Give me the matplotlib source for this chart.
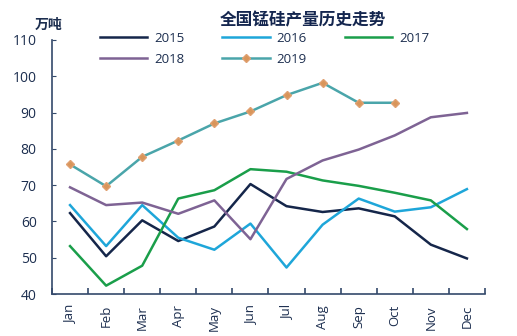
import matplotlib.pyplot as plt
import numpy as np

plt.rcParams['font.family'] = ['Open Sans', 'Noto Sans CJK SC', 'DejaVu Sans']

months = ["Jan", "Feb", "Mar", "Apr", "May", "Jun", "Jul", "Aug", "Sep", "Oct", "Nov", "Dec"]
y2015 = [62.3, 50.4, 60.3, 54.6, 58.6, 70.3, 64.2, 62.6, 63.6, 61.4, 53.6, 49.8]
y2016 = [64.5, 53.2, 64.5, 55.5, 52.2, 59.4, 47.3, 59.1, 66.3, 62.7, 63.9, 68.9]
y2017 = [53.2, 42.3, 47.8, 66.3, 68.6, 74.4, 73.7, 71.3, 69.8, 67.9, 65.8, 57.9]
y2018 = [69.4, 64.5, 65.2, 62.1, 65.8, 55.1, 71.7, 76.8, 79.8, 83.7, 88.7, 89.9]
y2019 = [75.7, 69.7, 77.8, 82.3, 87.0, 90.3, 94.8, 98.2, 92.7, 92.7]

navy = "#1c2e4f"
fig = plt.figure(figsize=(5.17, 3.36), dpi=100)
ax = fig.add_axes([0.1006, 0.125, 0.8374, 0.756])
x = np.arange(len(months))

l15, = ax.plot(x, y2015, color="#15264a", lw=1.8, label="2015")
l16, = ax.plot(x, y2016, color="#1ea6d9", lw=1.8, label="2016")
l17, = ax.plot(x, y2017, color="#1a9e4a", lw=1.8, label="2017")
l18, = ax.plot(x, y2018, color="#7e6394", lw=1.8, label="2018")
l19, = ax.plot(x[:len(y2019)], y2019, color="#4aa5aa", lw=1.8, marker="D", ms=4,
               mfc="#d8955a", mec="#e0a070", label="2019")

ax.set_xlim(-0.5, 11.5)
ax.set_ylim(40, 110)
ax.set_yticks(range(40, 111, 10))
ax.set_xticks(x)
ax.set_xticklabels(months, rotation=90)
ax.set_xticks(np.arange(-0.5, 12, 1), minor=True)
ax.tick_params(axis="x", which="major", length=0, pad=8, labelsize=9.5, colors=navy)
ax.tick_params(axis="x", which="minor", direction="in", length=4, color="#34496b", width=1.2)
ax.tick_params(axis="y", direction="in", length=3, labelsize=10, colors=navy, color="#34496b", pad=11)
for s in ["top", "right"]:
    ax.spines[s].set_visible(False)
for s in ["left", "bottom"]:
    ax.spines[s].set_color("#34496b")
    ax.spines[s].set_linewidth(1.2)

fig.text(0.093, 0.915, "万吨", fontsize=10, fontweight="bold", color=navy, ha="center",
         family=['Noto Sans CJK SC', 'DejaVu Sans'])
fig.text(0.585, 0.925, "全国锰硅产量历史走势", fontsize=12, fontweight="bold", color="#14264f",
         ha="center", family=['Noto Sans CJK SC', 'DejaVu Sans'])

handles = [l15, l18, l16, l19, l17]
fig.legend(handles, [h.get_label() for h in handles], loc="upper left",
           bbox_to_anchor=(0.17, 0.94), ncol=3, frameon=False,
           fontsize=9.5, handlelength=3.6, columnspacing=2.9, labelspacing=0.6,
           handletextpad=0.5, labelcolor=navy)

fig.savefig("out.png", dpi=100)
